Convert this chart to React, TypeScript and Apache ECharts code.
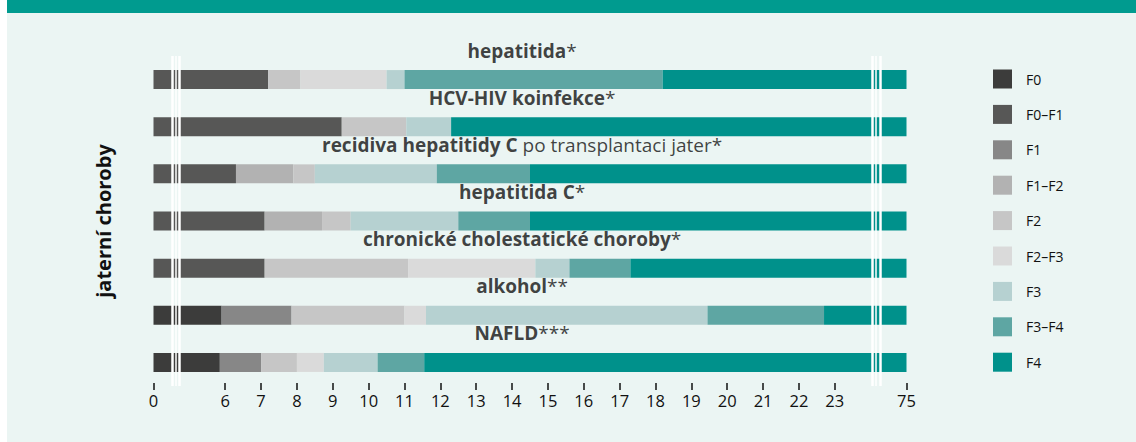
import React, { useEffect, useRef } from "react";
import * as echarts from "echarts";

const categories = [
  "hepatitida",
  "HCV-HIV koinfekce",
  "recidiva hepatitidy C po transplantaci jater",
  "hepatitida C",
  "chronické cholestatické choroby",
  "alkohol",
  "NAFLD",
];
const labelBold = [
  "hepatitida",
  "HCV-HIV koinfekce",
  "recidiva hepatitidy C",
  "hepatitida C",
  "chronické cholestatické choroby",
  "alkohol",
  "NAFLD",
];
const labelRest = ["*", "*", " po transplantaci jater*", "*", "*", "**", "***"];

const stages = ["F0", "F0–F1", "F1", "F1–F2", "F2", "F2–F3", "F3", "F3–F4", "F4"];
const stageColors = ["#3c3c3b", "#575756", "#878787", "#b2b2b2", "#c6c6c6", "#dadada", "#b6d1d1", "#5ea6a3", "#00918b"];

// end value of each stage (order of `stages`) per disease; null = stage absent
const endsHepatitida = [null, 7.2, null, null, 8.1, 10.5, 11.0, 18.2, 75];
const endsHcvHiv = [null, 9.25, null, null, 11.05, null, 12.3, null, 75];
const endsRecidiva = [null, 6.3, null, 7.9, 8.5, null, 11.9, 14.5, 75];
const endsHepatitidaC = [null, 7.1, null, 8.7, 9.5, null, 12.5, 14.5, 75];
const endsCholestaticke = [null, 7.1, null, null, 11.1, 14.65, 15.6, 17.3, 75];
const endsAlkohol = [5.9, null, 7.85, null, 11.0, 11.6, 19.45, 22.7, 75];
const endsNafld = [5.85, null, 7.0, null, 8.0, 8.75, 10.25, 11.55, 75];
const rowEnds = [endsHepatitida, endsHcvHiv, endsRecidiva, endsHepatitidaC, endsCholestaticke, endsAlkohol, endsNafld];

const tickLabels = [0, 6, 7, 8, 9, 10, 11, 12, 13, 14, 15, 16, 17, 18, 19, 20, 21, 22, 23, 75];

// broken axis: 0.5–5.25 compressed, 23–75 compressed
function toP(x: number): number {
  if (x <= 0.5) return x;
  if (x <= 5.25) return 0.5 + ((x - 0.5) * 0.75) / 4.75;
  if (x <= 23) return x - 4;
  return 19 + ((x - 23) * 2) / 52;
}

const labelCenter = 14.28;
const breakLinesP = [
  { p: 0.51, w: 2.5 },
  { p: 0.625, w: 1.5 },
  { p: 0.725, w: 2.5 },
  { p: 20.04, w: 2.5 },
  { p: 20.15, w: 1.5 },
  { p: 20.27, w: 2.5 },
];

const FONT = "'Open Sans', 'Noto Sans', sans-serif";
const INK = "#111111";

export default function App() {
  const ref = useRef<HTMLDivElement>(null);
  useEffect(() => {
    if (!ref.current) return;
    const chart = echarts.init(ref.current, null, { renderer: "svg" });

    const barSeries = stages.map((name, si) => ({
      name,
      type: "bar",
      stack: "total",
      barWidth: 19,
      itemStyle: { color: stageColors[si] },
      emphasis: { disabled: true },
      data: rowEnds.map((ends) => {
        const end = ends[si];
        if (end == null) return 0;
        let start = 0;
        for (let k = si - 1; k >= 0; k--) {
          if (ends[k] != null) {
            start = ends[k] as number;
            break;
          }
        }
        return toP(end) - toP(start);
      }),
    }));

    const tickP = tickLabels.map(toP);

    chart.setOption({
      animation: false,
      textStyle: { fontFamily: FONT },
      graphic: [
        { type: "rect", z: -10, shape: { x: 7, y: 0, width: 1129, height: 442 }, style: { fill: "#ebf5f3" } },
        { type: "rect", z: -10, shape: { x: 7, y: 0, width: 1129, height: 13 }, style: { fill: "#009b8f" } },
      ],
      grid: { left: 153.5, right: 229.5, top: 56, height: 330 },
      legend: {
        data: stages,
        orient: "vertical",
        left: 988,
        top: 64.5,
        itemWidth: 19,
        itemHeight: 19,
        itemGap: 16.4,
        icon: "rect",
        selectedMode: false,
        textStyle: { fontFamily: FONT, fontSize: 14, color: INK, padding: [0, 0, 0, 9] },
      },
      xAxis: {
        type: "value",
        min: 0,
        max: 21,
        offset: -3,
        axisLine: { show: false },
        splitLine: { show: false },
        axisTick: { show: true, length: 7, customValues: tickP, lineStyle: { color: INK, width: 1.5 } },
        axisLabel: {
          customValues: tickP,
          margin: 9,
          fontSize: 16.5,
          color: INK,
          fontFamily: FONT,
          formatter: (v: number) => {
            let best = 0;
            for (let i = 0; i < tickP.length; i++) {
              if (Math.abs(tickP[i] - v) < Math.abs(tickP[best] - v)) best = i;
            }
            return String(tickLabels[best]);
          },
        },
      },
      yAxis: {
        type: "category",
        data: categories,
        inverse: true,
        axisLine: { show: false },
        axisTick: { show: false },
        axisLabel: { show: false },
        name: "jaterní choroby",
        nameLocation: "middle",
        nameGap: 40,
        nameTextStyle: { fontFamily: FONT, fontSize: 20, fontWeight: "bold", color: INK },
      },
      series: [
        ...barSeries,
        {
          name: "labels",
          type: "scatter",
          symbolSize: 0,
          z: 5,
          silent: true,
          data: categories.map((c, i) => [toP(labelCenter), i]),
          label: {
            show: true,
            position: "inside",
            offset: [0, -29],
            formatter: (p: any) => `{b|${labelBold[p.dataIndex]}}{n|${labelRest[p.dataIndex]}}`,
            rich: {
              b: { fontFamily: FONT, fontSize: 19, fontWeight: "bold", color: INK },
              n: { fontFamily: FONT, fontSize: 19, fontWeight: "normal", color: INK },
            },
          },
          markLine: {
            silent: true,
            symbol: "none",
            label: { show: false },
            z: 6,
            data: breakLinesP.map((b) => ({ xAxis: b.p, lineStyle: { color: "#ffffff", type: "solid", width: b.w } })),
          },
        },
      ],
    });
    return () => chart.dispose();
  }, []);
  return (
    <div style={{ position: "fixed", left: 0, top: 0, width: 1136, height: 442, background: "#ffffff" }}>
      <div ref={ref} style={{ width: 1136, height: 442 }} />
    </div>
  );
}
